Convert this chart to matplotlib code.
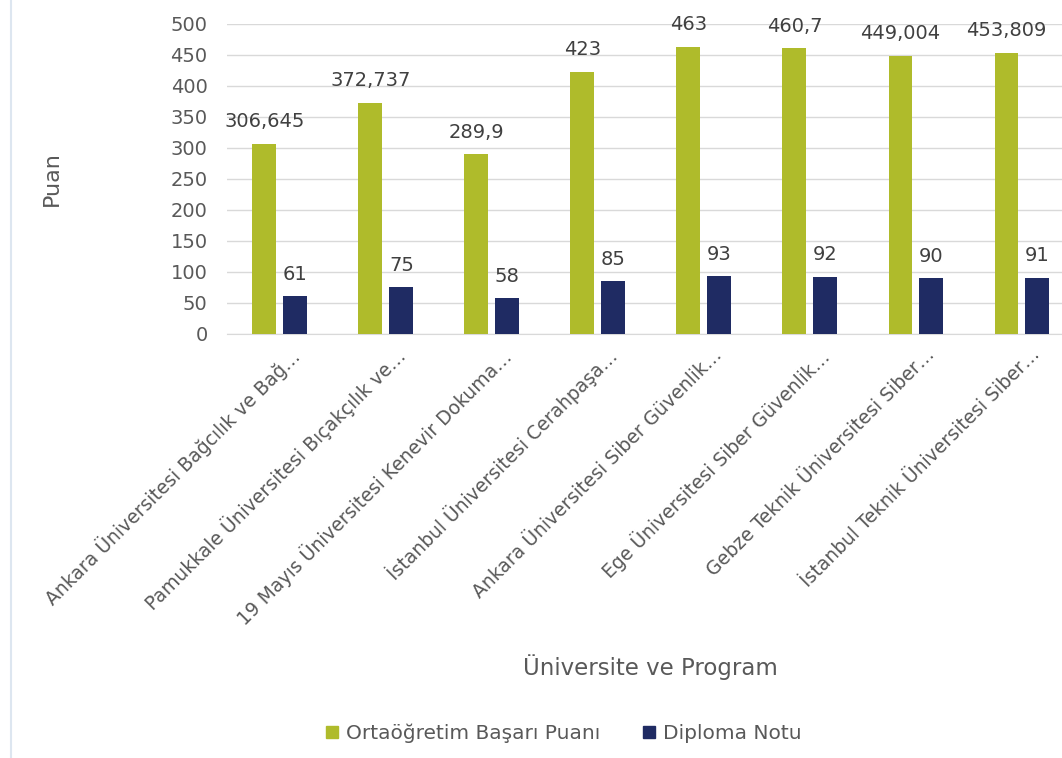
import numpy as np
import matplotlib
matplotlib.use("Agg")
import matplotlib.pyplot as plt
from matplotlib.lines import Line2D

# Data
programs = [
    "Ankara Üniversitesi Bağcılık ve Bağ…",
    "Pamukkale Üniversitesi Bıçakçılık ve…",
    "19 Mayıs Üniversitesi Kenevir Dokuma…",
    "İstanbul Üniversitesi Cerahpaşa…",
    "Ankara Üniversitesi Siber Güvenlik…",
    "Ege Üniversitesi Siber Güvenlik…",
    "Gebze Teknik Üniversitesi Siber…",
    "İstanbul Teknik Üniversitesi Siber…",
]
obp = [306.645, 372.737, 289.9, 423, 463, 460.7, 449.004, 453.809]
obp_labels = ["306,645", "372,737", "289,9", "423", "463", "460,7", "449,004", "453,809"]
diploma = [61, 75, 58, 85, 93, 92, 90, 91]
diploma_labels = ["61", "75", "58", "85", "93", "92", "90", "91"]

green = "#afbb2b"
navy = "#1f2b63"
grey = "#595959"

plt.rcParams['font.family'] = ['DejaVu Sans']

fig = plt.figure(figsize = (10.62, 7.58), dpi = 100)
ax = fig.add_axes([0.2137, 0.5594, 0.7985, 0.409])

x = np.arange(len(programs))
w = 0.226
off = 0.146
b1 = ax.bar(x - off, obp, w, color = green, zorder = 3)
b2 = ax.bar(x + off, diploma, w, color = navy, zorder = 3)

# value labels above the bars
for rect, lab in zip(b1, obp_labels):
  ax.annotate(lab, (rect.get_x() + rect.get_width() / 2, rect.get_height()),
              xytext = (0, 9), textcoords = 'offset points',
              ha = 'center', va = 'bottom', fontsize = 14, color = '#404040')
for rect, lab in zip(b2, diploma_labels):
  ax.annotate(lab, (rect.get_x() + rect.get_width() / 2, rect.get_height()),
              xytext = (0, 9), textcoords = 'offset points',
              ha = 'center', va = 'bottom', fontsize = 14, color = '#404040')

ax.set_xlim(-0.5, len(programs) - 0.5)
ax.set_ylim(0, 500)
ax.set_yticks(range(0, 501, 50))
ax.yaxis.grid(True, color = '#d9d9d9', linewidth = 1)
ax.set_axisbelow(True)
for s in ['top', 'right', 'left']:
  ax.spines[s].set_visible(False)
ax.spines['bottom'].set_color('#d9d9d9')
ax.tick_params(axis = 'both', length = 0, labelcolor = grey)
ax.tick_params(axis = 'y', labelsize = 14, pad = 14)

ax.set_xticks(x + 0.08)
ax.set_xticklabels(programs, rotation = 45, ha = 'right', rotation_mode = 'anchor',
                   fontsize = 13.5, color = grey)
ax.tick_params(axis = 'x', pad = 8)

ax.set_ylabel('Puan', fontsize = 16, color = grey, labelpad = 78)
fig.text(0.612, 0.12, 'Üniversite ve Program', fontsize = 16.5, color = grey,
         ha = 'center', va = 'center')

handles = [Line2D([], [], marker = 's', linestyle = 'none', markersize = 9, color = green),
           Line2D([], [], marker = 's', linestyle = 'none', markersize = 9, color = navy)]
fig.legend(handles, ['Ortaöğretim Başarı Puanı', 'Diploma Notu'], loc = 'center',
           bbox_to_anchor = (0.524, 0.033), ncol = 2, frameon = False, fontsize = 14.5,
           labelcolor = grey, handletextpad = -0.3, columnspacing = 1.4)

# faint frame edge on the left
fig.add_artist(Line2D([0.01, 0.01], [0.0, 1.0], color = '#dde6f0', linewidth = 1.5,
                      transform = fig.transFigure))

fig.savefig('out.png')
